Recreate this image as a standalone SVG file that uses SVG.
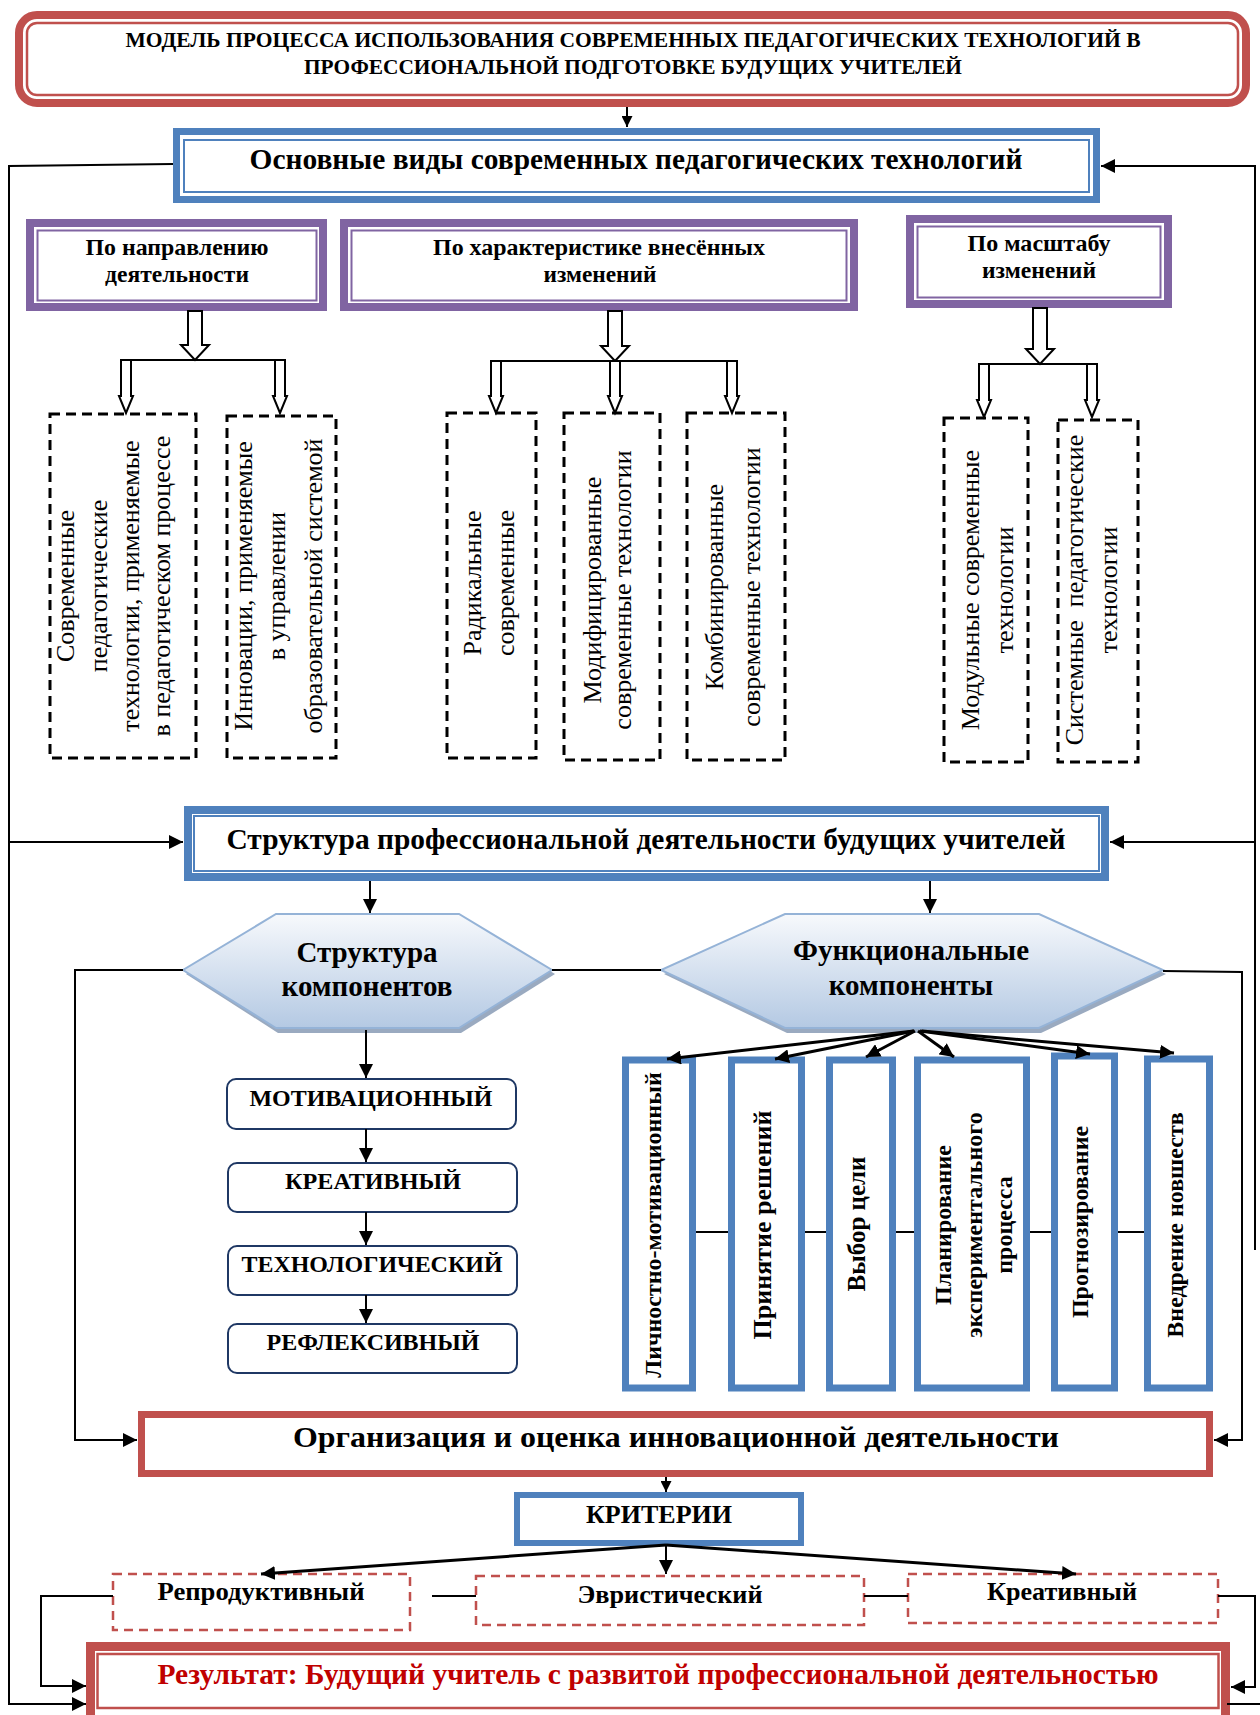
<svg xmlns="http://www.w3.org/2000/svg" width="1260" height="1715" viewBox="0 0 1260 1715">
<style>
.b{font-family:"Liberation Serif","Times New Roman",serif;font-weight:bold;fill:#000}
.r{font-family:"Liberation Serif","Times New Roman",serif;font-size:26px;fill:#000}
.m{text-anchor:middle}
.ln{fill:none;stroke:#000;stroke-width:2}
.lt{fill:none;stroke:#000;stroke-width:3}
.ar{marker-end:url(#ah)}
.bd{fill:none;stroke:#000;stroke-width:3;stroke-dasharray:10 6}
.rd{fill:#fff;stroke:#C0504D;stroke-width:2.5;stroke-dasharray:9 6}
.blk{fill:#fff;stroke:#000;stroke-width:2}
.pur{fill:#fff;stroke:#8064A2;stroke-width:8}
.purt{fill:none;stroke:#8064A2;stroke-width:2}
.blu{fill:#fff;stroke:#4F81BD;stroke-width:7}
.blut{fill:none;stroke:#4F81BD;stroke-width:2}
.red{fill:#fff;stroke:#C0504D;stroke-width:8}
.redt{fill:none;stroke:#C0504D;stroke-width:2.5}
.rb{fill:#fff;stroke:#1F3864;stroke-width:2}
.hx{fill:url(#hg);stroke:#95B3D7;stroke-width:2}
.hs{fill:#9AAAC0}
</style>
<defs>
<marker id="ah" viewBox="0 0 10 10" refX="10" refY="5" markerWidth="14" markerHeight="14" markerUnits="userSpaceOnUse" orient="auto"><path d="M0,0 L10,5 L0,10 z" fill="#000"/></marker>
<marker id="ahs" viewBox="0 0 10 10" refX="10" refY="5" markerWidth="11" markerHeight="11" markerUnits="userSpaceOnUse" orient="auto"><path d="M0,0 L10,5 L0,10 z" fill="#000"/></marker>
<linearGradient id="hg" x1="0" y1="0" x2="0" y2="1"><stop offset="0" stop-color="#F7F9FC"/><stop offset="1" stop-color="#B4C9E3"/></linearGradient>
</defs>
<rect width="1260" height="1715" fill="#fff"/>

<g id="title">
<rect x="19" y="15" width="1227" height="88" rx="18" class="red"/>
<rect x="27" y="23" width="1211" height="72" rx="10" class="redt"/>
<text x="633" y="47" class="b m" font-size="21" textLength="1015" lengthAdjust="spacingAndGlyphs">МОДЕЛЬ ПРОЦЕССА ИСПОЛЬЗОВАНИЯ СОВРЕМЕННЫХ ПЕДАГОГИЧЕСКИХ ТЕХНОЛОГИЙ В</text>
<text x="633" y="74" class="b m" font-size="21" textLength="658" lengthAdjust="spacingAndGlyphs">ПРОФЕССИОНАЛЬНОЙ ПОДГОТОВКЕ БУДУЩИХ УЧИТЕЛЕЙ</text>
</g>

<g id="types">
<rect x="176.5" y="131.5" width="920" height="68" class="blu"/>
<rect x="184" y="140" width="905" height="52" class="blut"/>
<text x="636" y="169" class="b m" font-size="29" textLength="773" lengthAdjust="spacingAndGlyphs">Основные виды современных педагогических технологий</text>
</g>

<g id="dir">
<rect x="30" y="223" width="293" height="84" class="pur"/>
<rect x="37.5" y="230.5" width="279" height="70" class="purt"/>
<text x="177" y="255" class="b m" font-size="23" textLength="183" lengthAdjust="spacingAndGlyphs">По направлению</text>
<text x="177" y="282" class="b m" font-size="23" textLength="144" lengthAdjust="spacingAndGlyphs">деятельности</text>
</g>
<g id="char">
<rect x="344" y="223" width="510" height="84" class="pur"/>
<rect x="351.5" y="230.5" width="495" height="70" class="purt"/>
<text x="599" y="255" class="b m" font-size="23" textLength="332" lengthAdjust="spacingAndGlyphs">По характеристике внесённых</text>
<text x="600" y="282" class="b m" font-size="23" textLength="113" lengthAdjust="spacingAndGlyphs">изменений</text>
</g>
<g id="scale">
<rect x="910" y="219" width="258" height="85" class="pur"/>
<rect x="917.5" y="226.5" width="243" height="71" class="purt"/>
<text x="1039" y="251" class="b m" font-size="23" textLength="143" lengthAdjust="spacingAndGlyphs">По масштабу</text>
<text x="1039" y="278" class="b m" font-size="23" textLength="114" lengthAdjust="spacingAndGlyphs">изменений</text>
</g>

<g id="block-arrows">
<path class="blk" d="M188,311 V345 H181 L195,360 L209,345 H202 V311 Z"/>
<line x1="121" y1="360" x2="285" y2="360" class="ln"/>
<path class="blk" d="M121,360 V396 H119 L126,413 L133,396 H131 V360 Z"/>
<path class="blk" d="M275,360 V396 H273 L280,413 L287,396 H285 V360 Z"/>

<path class="blk" d="M608,311 V346 H601 L615,361 L629,346 H622 V311 Z"/>
<line x1="491" y1="361" x2="737" y2="361" class="ln"/>
<path class="blk" d="M491,361 V396 H489 L496,413 L503,396 H501 V361 Z"/>
<path class="blk" d="M610,361 V396 H608 L615,413 L622,396 H620 V361 Z"/>
<path class="blk" d="M727,361 V396 H725 L732,413 L739,396 H737 V361 Z"/>

<path class="blk" d="M1033,308 V349 H1026 L1040,364 L1054,349 H1047 V308 Z"/>
<line x1="979" y1="364" x2="1097" y2="364" class="ln"/>
<path class="blk" d="M979,364 V400 H977 L984,417 L991,400 H989 V364 Z"/>
<path class="blk" d="M1087,364 V400 H1085 L1092,417 L1099,400 H1097 V364 Z"/>
</g>

<g id="a1">
<rect x="50" y="414" width="146" height="344" class="bd"/>
<text transform="translate(74,586) rotate(-90)" class="r m">Современные</text>
<text transform="translate(107,586) rotate(-90)" class="r m">педагогические</text>
<text transform="translate(139,586) rotate(-90)" class="r m">технологии, применяемые</text>
<text transform="translate(170,586) rotate(-90)" class="r m">в педагогическом процессе</text>
</g>
<g id="a2">
<rect x="227" y="416" width="109" height="342" class="bd"/>
<text transform="translate(252,586) rotate(-90)" class="r m">Инновации, применяемые</text>
<text transform="translate(285,586) rotate(-90)" class="r m">в управлении</text>
<text transform="translate(322,586) rotate(-90)" class="r m">образовательной системой</text>
</g>
<g id="b1">
<rect x="447" y="413" width="89" height="345" class="bd"/>
<text transform="translate(481,583) rotate(-90)" class="r m">Радикальные</text>
<text transform="translate(514,583) rotate(-90)" class="r m">современные</text>
</g>
<g id="b2">
<rect x="564" y="413" width="96" height="347" class="bd"/>
<text transform="translate(601,590) rotate(-90)" class="r m">Модифицированные</text>
<text transform="translate(631,590) rotate(-90)" class="r m">современные технологии</text>
</g>
<g id="b3">
<rect x="687" y="413" width="98" height="347" class="bd"/>
<text transform="translate(723,587) rotate(-90)" class="r m">Комбинированные</text>
<text transform="translate(760,587) rotate(-90)" class="r m">современные технологии</text>
</g>
<g id="c1">
<rect x="944" y="418" width="84" height="344" class="bd"/>
<text transform="translate(979,590) rotate(-90)" class="r m">Модульные современные</text>
<text transform="translate(1013,590) rotate(-90)" class="r m">технологии</text>
</g>
<g id="c2">
<rect x="1058" y="420" width="80" height="342" class="bd"/>
<text transform="translate(1083,590) rotate(-90)" class="r m" xml:space="preserve">Системные  педагогические</text>
<text transform="translate(1117,590) rotate(-90)" class="r m">технологии</text>
</g>

<g id="structure">
<rect x="188" y="810" width="917" height="67" class="blu" style="stroke-width:8"/>
<rect x="194" y="816" width="905" height="55" class="blut"/>
<text x="646" y="849" class="b m" font-size="29" textLength="839" lengthAdjust="spacingAndGlyphs">Структура профессиональной деятельности будущих учителей</text>
</g>

<g id="hex-struct">
<polygon class="hs" points="278,918 461,918 555,974 461,1033 278,1033 186,974"/>
<polygon class="hx" points="276,914 459,914 552,970 459,1028 276,1028 183,970"/>
<text x="367" y="962" class="b m" font-size="29">Структура</text>
<text x="367" y="996" class="b m" font-size="29">компонентов</text>
</g>
<g id="hex-func">
<polygon class="hs" points="787,918 1041,918 1166,974 1041,1033 787,1033 664,974"/>
<polygon class="hx" points="785,914 1039,914 1163,970 1039,1028 785,1028 661,970"/>
<text x="911" y="960" class="b m" font-size="29">Функциональные</text>
<text x="911" y="995" class="b m" font-size="29">компоненты</text>
</g>

<g id="mot"><rect x="227" y="1079" width="289" height="50" rx="9" class="rb"/>
<text x="371" y="1106" class="b m" font-size="24" textLength="243" lengthAdjust="spacingAndGlyphs">МОТИВАЦИОННЫЙ</text></g>
<g id="kre"><rect x="228" y="1163" width="289" height="49" rx="9" class="rb"/>
<text x="373" y="1189" class="b m" font-size="24" textLength="176" lengthAdjust="spacingAndGlyphs">КРЕАТИВНЫЙ</text></g>
<g id="tech"><rect x="228" y="1246" width="289" height="49" rx="9" class="rb"/>
<text x="372" y="1272" class="b m" font-size="24" textLength="261" lengthAdjust="spacingAndGlyphs">ТЕХНОЛОГИЧЕСКИЙ</text></g>
<g id="refl"><rect x="228" y="1324" width="289" height="49" rx="9" class="rb"/>
<text x="373" y="1350" class="b m" font-size="24" textLength="213" lengthAdjust="spacingAndGlyphs">РЕФЛЕКСИВНЫЙ</text></g>

<g id="f1"><rect x="625.5" y="1060" width="67" height="328" class="blu"/>
<text transform="translate(661,1225) rotate(-90)" class="b m" font-size="24">Личностно-мотивационный</text></g>
<g id="f2"><rect x="731.5" y="1060" width="70" height="328" class="blu"/>
<text transform="translate(771,1225) rotate(-90)" class="b m" font-size="26">Принятие решений</text></g>
<g id="f3"><rect x="829.5" y="1060" width="63" height="328" class="blu"/>
<text transform="translate(865,1224) rotate(-90)" class="b m" font-size="25">Выбор цели</text></g>
<g id="f4"><rect x="917.5" y="1060" width="109" height="328" class="blu"/>
<text transform="translate(951,1225) rotate(-90)" class="b m" font-size="24">Планирование</text>
<text transform="translate(982,1225) rotate(-90)" class="b m" font-size="24">экспериментального</text>
<text transform="translate(1012,1225) rotate(-90)" class="b m" font-size="24">процесса</text></g>
<g id="f5"><rect x="1054.5" y="1056" width="60" height="332" class="blu"/>
<text transform="translate(1088,1222) rotate(-90)" class="b m" font-size="24">Прогнозирование</text></g>
<g id="f6"><rect x="1147.5" y="1059" width="62" height="329" class="blu"/>
<text transform="translate(1183,1225) rotate(-90)" class="b m" font-size="24">Внедрение новшеств</text></g>

<g id="org">
<rect x="141.5" y="1414.5" width="1068" height="59" class="red" style="stroke-width:7"/>
<text x="676" y="1447" class="b m" font-size="30" textLength="766" lengthAdjust="spacingAndGlyphs">Организация и оценка инновационной деятельности</text>
</g>
<g id="crit">
<rect x="517" y="1495" width="284" height="48" class="blu" style="stroke-width:6"/>
<text x="659" y="1523" class="b m" font-size="25" textLength="146" lengthAdjust="spacingAndGlyphs">КРИТЕРИИ</text>
</g>
<g id="repr"><rect x="113" y="1574" width="297" height="56" class="rd"/>
<text x="261" y="1600" class="b m" font-size="26" textLength="207" lengthAdjust="spacingAndGlyphs">Репродуктивный</text></g>
<g id="evr"><rect x="476" y="1576" width="388" height="49" class="rd"/>
<text x="670" y="1603" class="b m" font-size="26" textLength="185" lengthAdjust="spacingAndGlyphs">Эвристический</text></g>
<g id="kreat"><rect x="908" y="1574" width="310" height="49" class="rd"/>
<text x="1062" y="1600" class="b m" font-size="26" textLength="150" lengthAdjust="spacingAndGlyphs">Креативный</text></g>

<g id="result">
<rect x="90.5" y="1646.5" width="1135" height="80" class="red" style="stroke-width:9"/>
<rect x="97.5" y="1654" width="1121" height="54" class="redt"/>
<text x="658" y="1684" class="b m" font-size="29" style="fill:#C00000" textLength="1001" lengthAdjust="spacingAndGlyphs">Результат: Будущий учитель с развитой профессиональной деятельностью</text>
</g>

<g id="connectors">
<line x1="627" y1="107" x2="627" y2="127" class="ln" marker-end="url(#ahs)"/>
<polyline points="173,164 9,166 9,1704 86,1704" class="ln ar"/>
<line x1="9" y1="842" x2="183" y2="842" class="ln ar"/>
<polyline points="1255,1250 1255,166 1101,166" class="ln ar"/>
<line x1="1255" y1="842" x2="1110" y2="842" class="ln ar"/>
<line x1="370" y1="881" x2="370" y2="913" class="ln ar"/>
<line x1="930" y1="881" x2="930" y2="913" class="ln ar"/>
<line x1="552" y1="970" x2="661" y2="970" class="ln"/>
<polyline points="183,970 75,970 75,1440 137,1440" class="ln ar"/>
<polyline points="1163,971 1242,972 1242,1440 1214,1440" class="ln ar"/>
<line x1="366" y1="1030" x2="366" y2="1078" class="ln ar"/>
<line x1="366" y1="1129" x2="366" y2="1162" class="ln ar"/>
<line x1="366" y1="1212" x2="366" y2="1245" class="ln ar"/>
<line x1="366" y1="1295" x2="366" y2="1323" class="ln ar"/>
<line x1="914" y1="1031" x2="667" y2="1059" class="lt ar"/>
<line x1="914" y1="1031" x2="775" y2="1059" class="lt ar"/>
<line x1="915" y1="1031" x2="866" y2="1057" class="lt ar"/>
<line x1="918" y1="1031" x2="954" y2="1057" class="lt ar"/>
<line x1="920" y1="1031" x2="1090" y2="1054" class="lt ar"/>
<line x1="922" y1="1031" x2="1174" y2="1053" class="lt ar"/>
<line x1="696" y1="1232" x2="728" y2="1232" class="ln"/>
<line x1="805" y1="1232" x2="826" y2="1232" class="ln"/>
<line x1="896" y1="1232" x2="914" y2="1232" class="ln"/>
<line x1="1030" y1="1232" x2="1051" y2="1232" class="ln"/>
<line x1="1118" y1="1232" x2="1144" y2="1232" class="ln"/>
<line x1="666" y1="1477" x2="666" y2="1492" class="ln" marker-end="url(#ahs)"/>
<line x1="666" y1="1545" x2="261" y2="1574" class="lt ar"/>
<line x1="666" y1="1545" x2="666" y2="1574" class="ln ar"/>
<line x1="666" y1="1545" x2="1076" y2="1574" class="lt ar"/>
<line x1="432" y1="1596" x2="476" y2="1596" class="ln"/>
<line x1="864" y1="1596" x2="908" y2="1596" class="ln"/>
<polyline points="113,1596 41,1596 41,1686 86,1686" class="ln ar"/>
<polyline points="1218,1596 1255,1596 1255,1687 1231,1687" class="ln ar"/>
<line x1="1227" y1="1704" x2="1260" y2="1704" class="ln"/>
</g>
</svg>
